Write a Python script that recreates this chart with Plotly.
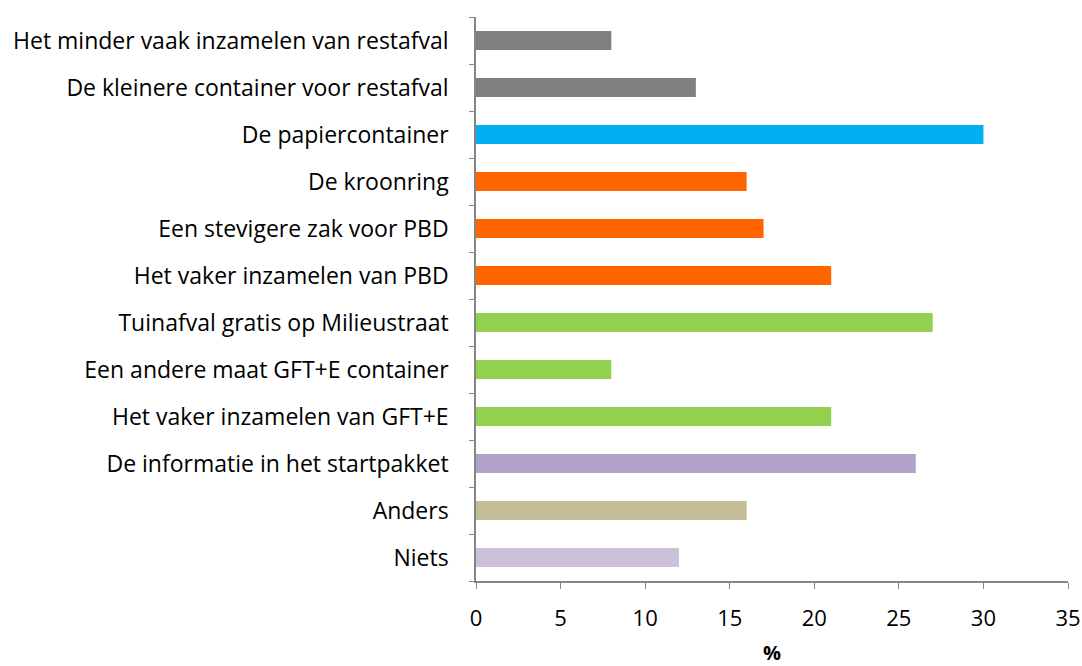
import plotly.graph_objects as go

categories = [
    "Het minder vaak inzamelen van restafval",
    "De kleinere container voor restafval",
    "De papiercontainer",
    "De kroonring",
    "Een stevigere zak voor PBD",
    "Het vaker inzamelen van PBD",
    "Tuinafval gratis op Milieustraat",
    "Een andere maat GFT+E container",
    "Het vaker inzamelen van GFT+E",
    "De informatie in het startpakket",
    "Anders",
    "Niets",
]
values = [8, 13, 30, 16, 17, 21, 27, 8, 21, 26, 16, 12]
colors = ["#808080", "#808080", "#00B0F0", "#FF6600", "#FF6600", "#FF6600",
          "#92D050", "#92D050", "#92D050", "#B3A2C7", "#C4BD97", "#CCC1DA"]

fig = go.Figure(go.Bar(
    x=values, y=categories, orientation="h",
    marker=dict(color=colors, line=dict(width=0)),
    width=0.4,
))

font_family = "Open Sans, Calibri, Carlito, sans-serif"
fig.update_layout(
    width=1082, height=666,
    margin=dict(l=476, r=14, t=17, b=85),
    plot_bgcolor="white", paper_bgcolor="white",
    font=dict(family=font_family, size=23, color="#000000"),
    showlegend=False,
    bargap=0.6,
)
fig.update_yaxes(
    categoryorder="array", categoryarray=categories[::-1],
    autorange=False, range=[-0.5, len(categories) - 0.5],
    showline=True, linecolor="#868686", linewidth=1.5,
    ticks="outside", tickson="boundaries", ticklen=5, tickcolor="#868686",
    ticklabelstandoff=21, showgrid=False, automargin=False,
    tickfont=dict(size=23),
)
fig.update_xaxes(
    range=[0, 35], dtick=5, tick0=0,
    showline=True, linecolor="#868686", linewidth=1.5,
    ticks="outside", ticklen=6, tickcolor="#868686",
    showgrid=False, zeroline=False, automargin=False,
    ticklabelstandoff=11,
    tickfont=dict(size=22),
    title=dict(text="<b>%</b>", font=dict(size=20), standoff=16),
)

page_fix = (
    "document.documentElement.style.margin='0';"
    "document.documentElement.style.overflow='hidden';"
    "document.body.style.margin='0';"
    "document.body.style.overflow='hidden';"
    "document.body.style.height='666px';"
    "var gd=document.getElementById('{plot_id}');"
    "gd.style.position='absolute';gd.style.left='0px';gd.style.top='0px';"
)

fig.write_html(
    "out.html",
    config={"displayModeBar": False},
    post_script=page_fix,
)
